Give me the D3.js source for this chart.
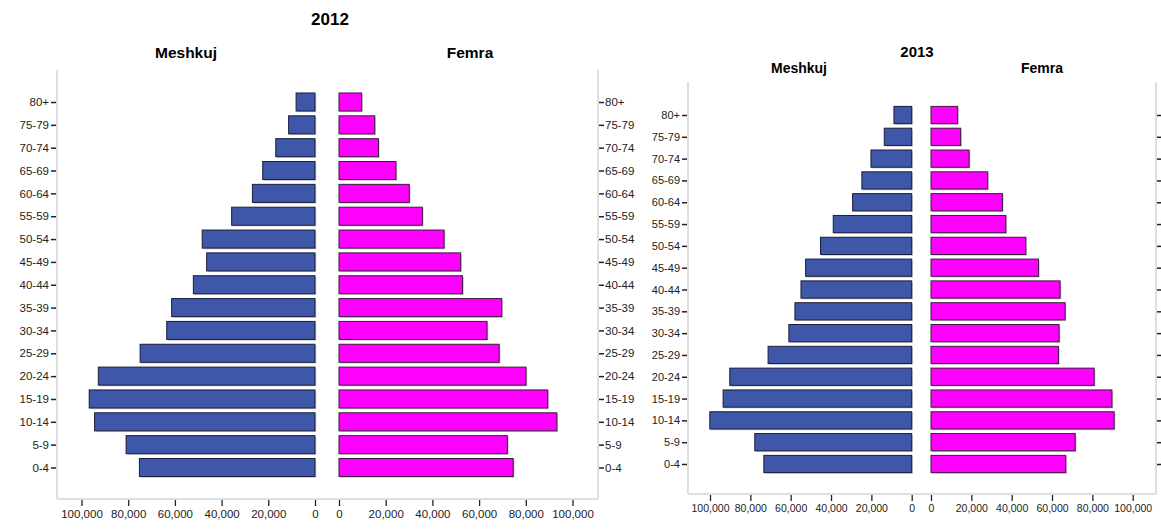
<!DOCTYPE html>
<html>
<head>
<meta charset="utf-8">
<script src="https://cdn.jsdelivr.net/npm/d3@7"></script>
<style>
  html, body { margin: 0; padding: 0; background: #fff; }
  svg { display: block; font-family: "Liberation Sans", Arial, sans-serif; }
</style>
</head>
<body>
<svg id="chart" width="1161" height="529"></svg>
<script>
// ---------- Data ----------
const ageGroups = ["80+","75-79","70-74","65-69","60-64","55-59","50-54","45-49","40-44",
                   "35-39","30-34","25-29","20-24","15-19","10-14","5-9","0-4"];
const male2012   = [8100,11300,16800,22400,26800,35700,48300,46400,52100,61400,63500,74900,92800,96700,94400,80900,75200];
const female2012 = [9700,15300,16900,24400,30100,35700,45000,52100,52900,69700,63400,68600,80100,89400,93300,72100,74600];
const male2013   = [8800,13600,20200,24700,29300,38900,45200,52600,54900,57900,60900,71200,90200,93500,100100,77800,73300];
const female2013 = [13200,14700,18900,28100,35400,37100,47000,53300,64000,66500,63500,63200,80900,89700,90800,71500,66800];
const xTickValues = [0,20000,40000,60000,80000,100000];
const sexLabels = ["Meshkuj","Femra"];
const years = ["2012","2013"];

const svg = d3.select("#chart");
const fmt = d3.format(",");
const MALE = "#3f57a9", FEMALE = "#ff00ff";

function drawPanel(cfg) {
  const g = svg.append("g");
  const y = d3.scalePoint().domain(ageGroups).range([cfg.yFirst, cfg.yLast]);
  const bh = y.step() * 0.79;
  const xL = d3.scaleLinear().domain([0, 100000]).range([cfg.leftZero, cfg.leftMax]);
  const xR = d3.scaleLinear().domain([0, 100000]).range([cfg.rightZero, cfg.rightMax]);

  // frame
  const fc = "#d4d4d4";
  g.append("line").attr("x1", cfg.frameL).attr("x2", cfg.frameL).attr("y1", cfg.frameT).attr("y2", cfg.frameB).attr("stroke", fc).attr("stroke-width", 1.5);
  g.append("line").attr("x1", cfg.frameR).attr("x2", cfg.frameR).attr("y1", cfg.frameT).attr("y2", cfg.frameB).attr("stroke", fc).attr("stroke-width", 1.5);
  g.append("line").attr("x1", cfg.frameL).attr("x2", cfg.frameR).attr("y1", cfg.frameB).attr("y2", cfg.frameB).attr("stroke", fc).attr("stroke-width", 1.5);

  // titles
  g.append("text").attr("x", cfg.titleX).attr("y", cfg.titleY).attr("text-anchor", "middle")
    .attr("font-weight", "bold").attr("font-size", cfg.titleSize).text(cfg.year);
  g.append("text").attr("x", cfg.maleLabelX).attr("y", cfg.sexY).attr("text-anchor", "middle")
    .attr("font-weight", "bold").attr("font-size", cfg.sexSize).text(sexLabels[0]);
  g.append("text").attr("x", cfg.femaleLabelX).attr("y", cfg.sexY).attr("text-anchor", "middle")
    .attr("font-weight", "bold").attr("font-size", cfg.sexSize).text(sexLabels[1]);

  // bars: shadows
  const shadow = (sel) => sel.attr("fill", "#9a9a9a").attr("opacity", 0.55);
  g.selectAll(".ms").data(cfg.male).enter().append("rect")
    .attr("x", d => xL(d) + 1.2).attr("y", (d, i) => y(ageGroups[i]) - bh / 2 + 1.2)
    .attr("width", d => xL(0) - xL(d)).attr("height", bh).call(shadow);
  g.selectAll(".fs").data(cfg.female).enter().append("rect")
    .attr("x", xR(0) + 1.2).attr("y", (d, i) => y(ageGroups[i]) - bh / 2 + 1.2)
    .attr("width", d => xR(d) - xR(0)).attr("height", bh).call(shadow);

  g.selectAll(".m").data(cfg.male).enter().append("rect")
    .attr("x", d => xL(d)).attr("y", (d, i) => y(ageGroups[i]) - bh / 2)
    .attr("width", d => xL(0) - xL(d)).attr("height", bh)
    .attr("fill", MALE).attr("stroke", "#1c1c3a").attr("stroke-width", 1);
  g.selectAll(".f").data(cfg.female).enter().append("rect")
    .attr("x", xR(0)).attr("y", (d, i) => y(ageGroups[i]) - bh / 2)
    .attr("width", d => xR(d) - xR(0)).attr("height", bh)
    .attr("fill", FEMALE).attr("stroke", "#3a1c3a").attr("stroke-width", 1);

  // y axis left (labels + ticks)
  const yAxL = d3.axisLeft(y).tickSize(5).tickPadding(2);
  const gyl = g.append("g").attr("transform", `translate(${cfg.frameL - 1},0)`).call(yAxL);
  gyl.select(".domain").remove();
  gyl.selectAll("line").attr("stroke", "#222").attr("stroke-width", 1.5);
  gyl.selectAll("text").attr("font-size", cfg.catSize).attr("fill", "#222").attr("font-family", "Liberation Sans, Arial, sans-serif");

  // y axis right
  const yAxR = d3.axisRight(y).tickSize(5).tickPadding(1);
  if (!cfg.rightLabels) yAxR.tickFormat("");
  const gyr = g.append("g").attr("transform", `translate(${cfg.frameR + 1},0)`).call(yAxR);
  gyr.select(".domain").remove();
  gyr.selectAll("line").attr("stroke", "#222").attr("stroke-width", 1.5);
  gyr.selectAll("text").attr("font-size", cfg.catSize).attr("fill", "#222").attr("font-family", "Liberation Sans, Arial, sans-serif");

  // x axes
  const axL = d3.axisBottom(xL).tickValues(xTickValues).tickFormat(fmt).tickSize(6).tickPadding(4);
  const gxl = g.append("g").attr("transform", `translate(0,${cfg.frameB + 1})`).call(axL);
  const axR = d3.axisBottom(xR).tickValues(xTickValues).tickFormat(fmt).tickSize(6).tickPadding(4);
  const gxr = g.append("g").attr("transform", `translate(0,${cfg.frameB + 1})`).call(axR);
  [gxl, gxr].forEach(a => {
    a.select(".domain").remove();
    a.selectAll("line").attr("stroke", "#222").attr("stroke-width", 1.3);
    a.selectAll("text").attr("font-size", cfg.numSize).attr("fill", "#222").attr("font-family", "Liberation Sans, Arial, sans-serif");
  });
}

drawPanel({
  year: years[0], male: male2012, female: female2012,
  yFirst: 102, yLast: 467.5,
  leftZero: 315, leftMax: 81.5, rightZero: 339, rightMax: 572.5,
  frameL: 57, frameR: 598, frameT: 70, frameB: 499,
  titleX: 330, titleY: 25, titleSize: 17,
  maleLabelX: 186, femaleLabelX: 470, sexY: 58, sexSize: 15.5,
  catSize: 11.5, numSize: 11.5, rightLabels: true
});

drawPanel({
  year: years[1], male: male2013, female: female2013,
  yFirst: 115, yLast: 464,
  leftZero: 911.7, leftMax: 710, rightZero: 931, rightMax: 1132.7,
  frameL: 688, frameR: 1156, frameT: 82, frameB: 494,
  titleX: 917, titleY: 57, titleSize: 15,
  maleLabelX: 799, femaleLabelX: 1042, sexY: 73, sexSize: 14,
  catSize: 11, numSize: 10.5, rightLabels: false
});
</script>
</body>
</html>
